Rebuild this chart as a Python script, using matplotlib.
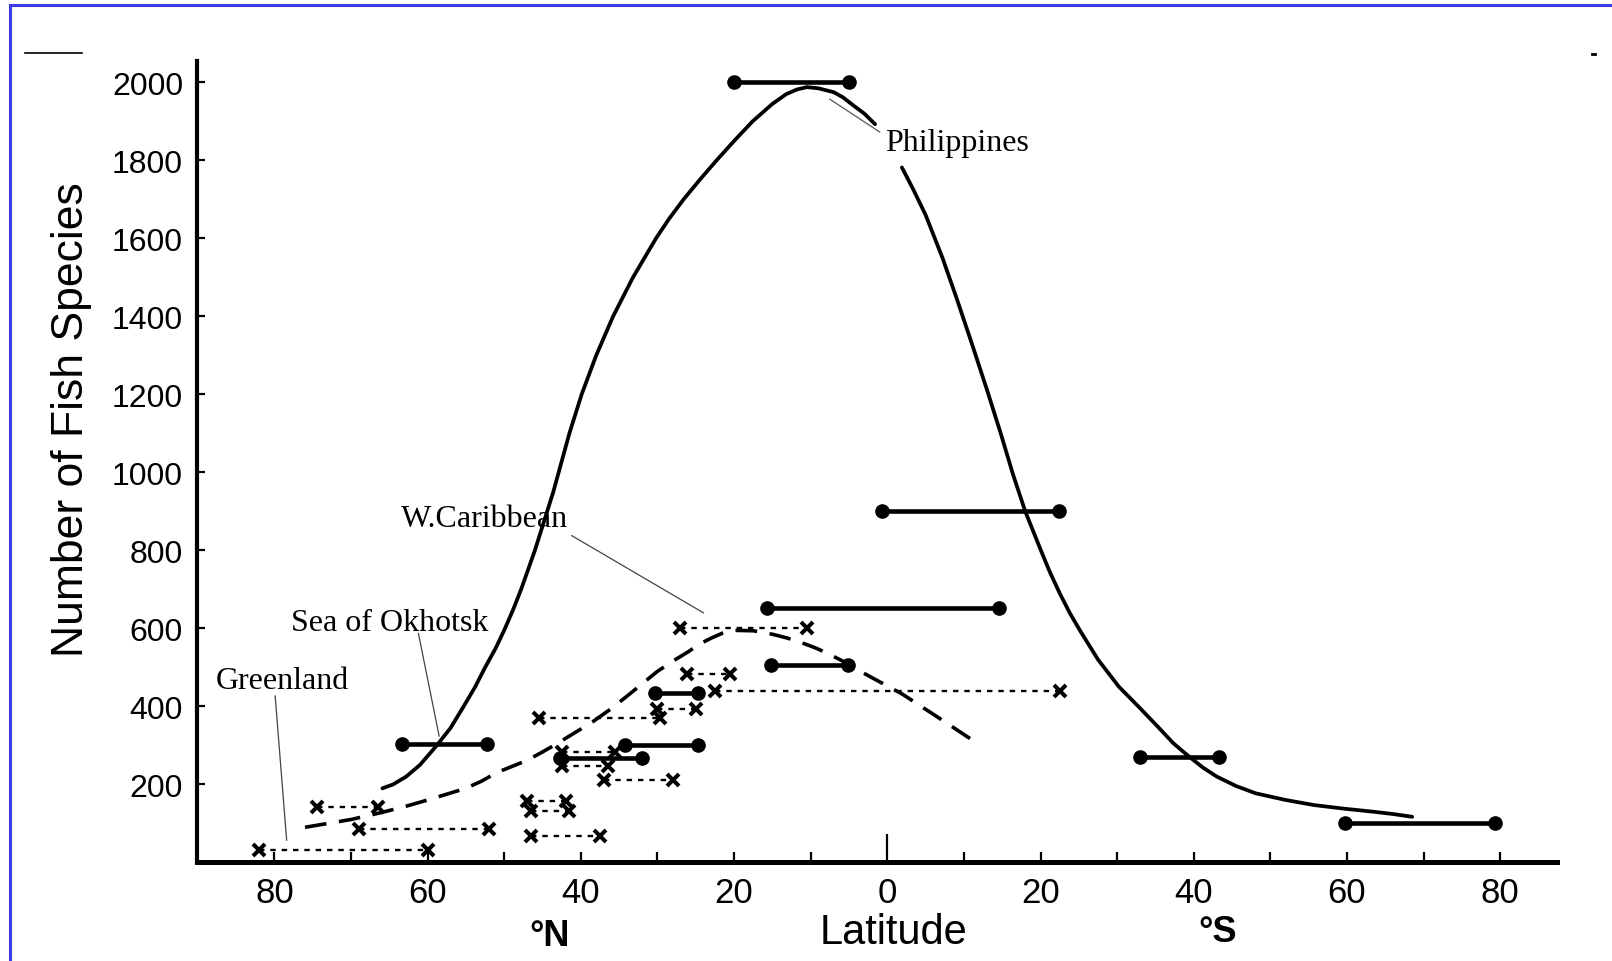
import matplotlib
matplotlib.use("Agg")
import matplotlib.pyplot as plt
from matplotlib.lines import Line2D

# ---------------- data (latitude: negative = North, positive = South) ----------------
bar_lat_start = [-20.0, -0.7, -15.7, -15.2, -30.3, -63.4, -34.3, -42.7, 33.0, 59.7]
bar_lat_end   = [-5.0, 22.4, 14.6, -5.1, -24.7, -52.2, -24.7, -32.0, 43.3, 79.3]
bar_species   = [2000, 900, 653, 506, 435, 303, 301, 268, 271, 100]

cross_lat_start = [-82.0, -74.5, -69.0, -46.5, -47.0, -46.5, -42.5, -42.5, -37.0, -45.5, -30.0, -26.2, -22.5, -27.0]
cross_lat_end   = [-60.0, -66.5, -52.0, -37.5, -42.0, -41.5, -35.5, -36.5, -28.0, -29.7, -25.0, -20.5, 22.5, -10.5]
cross_species   = [33, 143, 85, 68, 158, 133, 282, 248, 212, 370, 393, 483, 440, 601]

solid_lat_a = [-65.9, -64.5, -62.8, -61.0, -58.8, -57.0, -55.3, -53.8, -52.5, -51.1, -49.9,
               -48.8, -47.8, -46.9, -46.0, -45.2, -44.4, -43.6, -42.9, -41.5, -39.9,
               -38.0, -35.8, -33.2, -30.2, -28.5, -26.6, -24.5, -22.3, -20.0, -17.6,
               -15.0, -13.2, -11.8, -10.5, -9.0, -7.0, -5.8, -4.5, -3.0, -1.6]
solid_sp_a  = [190, 200, 220, 250, 300, 345, 400, 450, 500, 550, 600,
               650, 700, 750, 800, 850, 900, 950, 1000, 1100, 1200,
               1300, 1400, 1500, 1600, 1650, 1700, 1750, 1800, 1850, 1900,
               1945, 1970, 1982, 1988, 1985, 1975, 1962, 1942, 1920, 1893]
solid_lat_b = [1.9, 3.4, 5.0, 7.2, 9.0, 11.0, 13.0, 14.8, 16.4, 18.0, 20.0, 21.2, 22.5,
               23.8, 25.1, 27.5, 30.2, 33.0, 35.3, 37.3, 39.4, 41.2, 43.0, 45.5, 48.1,
               52.0, 55.7, 59.5, 63.4, 66.0, 68.5]
solid_sp_b  = [1782, 1725, 1660, 1550, 1449, 1332, 1212, 1100, 995, 900, 802, 745, 690,
               640, 596, 520, 451, 395, 348, 306, 271, 243, 220, 196, 177,
               160, 147, 138, 130, 124, 117]

dashed_lat = [-76.0, -73.0, -70.0, -66.0, -63.0, -60.0, -57.5, -55.0, -53.0, -51.0, -49.0,
              -47.0, -45.3, -43.5, -41.0, -38.5, -36.2, -34.0, -32.0, -30.0, -28.0,
              -26.0, -24.5, -23.0, -21.5, -20.0, -17.5, -15.0, -13.0, -11.0, -9.5,
              -8.0, -6.0, -4.0, -1.0, 2.0, 4.5, 7.0, 9.3, 11.6]
dashed_sp  = [90, 100, 110, 128, 143, 160, 175, 190, 208, 230, 246,
              262, 280, 300, 330, 360, 392, 426, 458, 490, 516,
              540, 560, 575, 588, 595, 594, 585, 575, 562, 551,
              538, 518, 495, 463, 431, 399, 367, 337, 307]

x_major = [-80, -60, -40, -20, 0, 20, 40, 60, 80]
x_major_labels = ["80", "60", "40", "20", "0", "20", "40", "60", "80"]
x_minor = [-70, -50, -30, -10, 10, 30, 50, 70]
y_ticks = [200, 400, 600, 800, 1000, 1200, 1400, 1600, 1800, 2000]

# ---------------- figure ----------------
W, H = 1612, 962
fig = plt.figure(figsize=(W / 100, H / 100), dpi=100)
ax = fig.add_axes([197 / W, 1 - 863.4 / H, (1557 - 197) / W, (863.4 - 62) / H])
ax.set_xlim(-90.1, 87.4)
ax.set_ylim(0, 2055)

sans = "Liberation Sans"
serif = "Liberation Serif"

# curves
ax.plot(solid_lat_a, solid_sp_a, color="black", lw=2.7, solid_capstyle="round",
        solid_joinstyle="round", zorder=2)
ax.plot(solid_lat_b, solid_sp_b, color="black", lw=2.7, solid_capstyle="round",
        solid_joinstyle="round", zorder=2)
dl, = ax.plot(dashed_lat, dashed_sp, color="black", lw=2.6, zorder=2)
dl.set_dashes([6, 3.5])

# cross (dotted) ranges
for x1, x2, y in zip(cross_lat_start, cross_lat_end, cross_species):
    ln, = ax.plot([x1, x2], [y, y], color="black", lw=1.7, marker="x",
                  markersize=8.5, markeredgewidth=2.9, zorder=3)
    ln.set_dashes([2.3, 2.5])

# solid ranges
for x1, x2, y in zip(bar_lat_start, bar_lat_end, bar_species):
    ax.plot([x1, x2], [y, y], color="black", lw=3.3, marker="o", markersize=9.5,
            solid_capstyle="butt", zorder=4)

# axes styling
for s in ["top", "right"]:
    ax.spines[s].set_visible(False)
ax.spines["left"].set_linewidth(3.0)
ax.spines["bottom"].set_linewidth(3.6)

ax.set_xticks(x_major)
ax.set_xticklabels(x_major_labels, fontfamily=sans, fontsize=25)
ax.set_xticks(x_minor, minor=True)
ax.tick_params(axis="x", which="both", direction="in", length=7, width=1.6, pad=10)
for t, v in zip(ax.xaxis.get_major_ticks(), x_major):
    if v == 0:
        t.tick1line.set_markersize(20)

ax.set_yticks(y_ticks)
ax.set_yticklabels([str(v) for v in y_ticks], fontfamily=sans, fontsize=23)
ax.tick_params(axis="y", direction="in", length=6, width=1.6, pad=10)

# annotations
ax.text(-0.3, 1847, "Philippines", fontfamily=serif, fontsize=23, ha="left", va="center")
ax.plot([-7.5, -1.0], [1957, 1873], color="#555555", lw=0.9, zorder=1)
ax.text(-63.5, 883, "W.Caribbean", fontfamily=serif, fontsize=23, ha="left", va="center")
ax.plot([-41.2, -24.0], [838, 640], color="#444444", lw=0.9, zorder=1)
ax.text(-77.8, 614, "Sea of Okhotsk", fontfamily=serif, fontsize=23, ha="left", va="center")
ax.plot([-61.2, -58.5], [587, 324], color="#444444", lw=0.9, zorder=1)
ax.text(-87.6, 466, "Greenland", fontfamily=serif, fontsize=23, ha="left", va="center")
ax.plot([-79.9, -78.4], [427, 57], color="#444444", lw=0.9, zorder=1)

# axis titles
fig.text(72 / W, 1 - 420 / H, "Number of Fish Species", rotation=90, fontfamily=sans,
         fontsize=32, ha="center", va="center")
fig.text(894 / W, 1 - 933 / H, "Latitude", fontfamily=sans, fontsize=30, ha="center", va="center")
fig.text(550 / W, 1 - 937 / H, "°N", fontfamily=sans, fontsize=26, fontweight="bold",
         ha="center", va="center")
fig.text(1218 / W, 1 - 932 / H, "°S", fontfamily=sans, fontsize=26, fontweight="bold",
         ha="center", va="center")

# page border (top and left) and scan artifacts
blue = "#3c3ce0"
fig.add_artist(Line2D([10 / W, 1.0], [1 - 6 / H, 1 - 6 / H], color=blue, lw=2.2))
fig.add_artist(Line2D([10 / W, 10 / W], [0.0, 1 - 6 / H], color=blue, lw=2.2))
fig.add_artist(Line2D([25 / W, 82 / W], [1 - 54 / H, 1 - 54 / H], color="black", lw=1.2))
fig.add_artist(Line2D([1592 / W, 1595 / W], [1 - 55 / H, 1 - 55 / H], color="black", lw=2))

fig.savefig("out.png", dpi=100, facecolor="white")
